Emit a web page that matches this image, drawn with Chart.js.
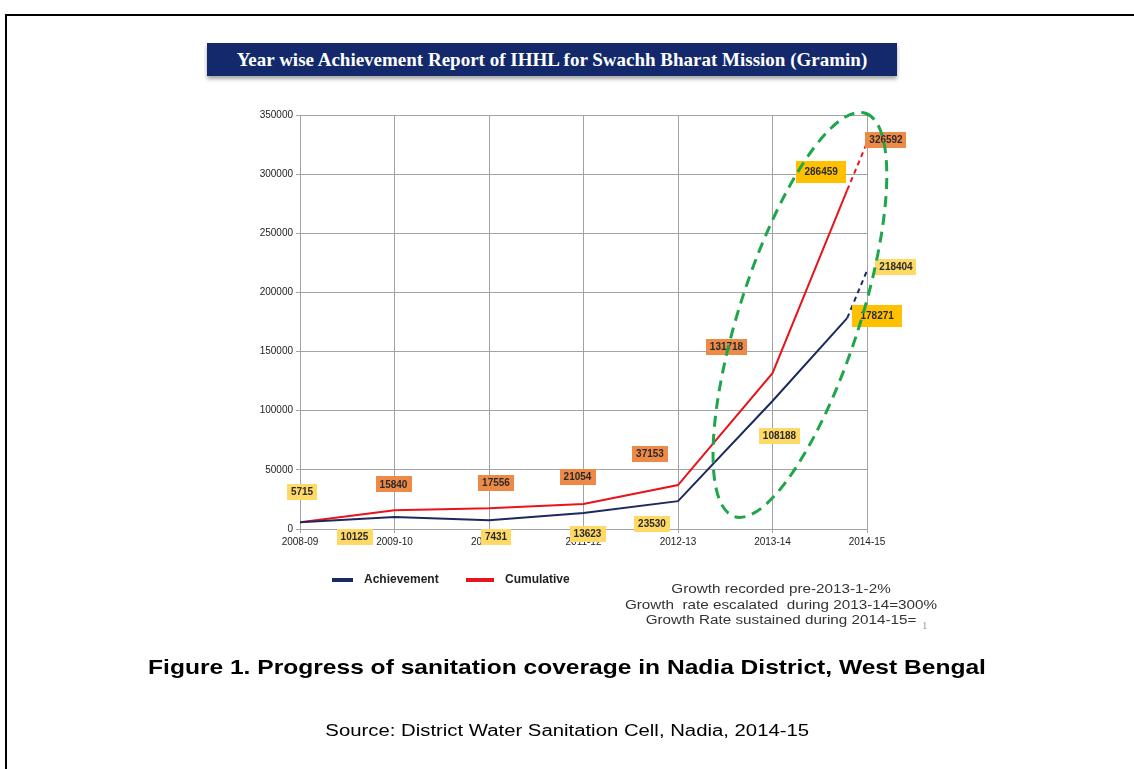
<!DOCTYPE html>
<html>
<head>
<meta charset="utf-8">
<title>IHHL achievement, Nadia</title>
<script src="https://cdn.jsdelivr.net/npm/chart.js@4"></script>
<style>
  html, body { margin: 0; padding: 0; background: #fff; }
  #page { position: relative; width: 1134px; height: 769px; overflow: hidden; font-family: "Liberation Sans", Arial, sans-serif; }
  .frame { position: absolute; background: #000; }
  #banner {
    position: absolute; left: 207px; top: 43px; width: 690px; height: 33px;
    background: #13296b; color: #fff; box-shadow: 0 3px 4px rgba(0,0,0,0.35);
    font: bold 19px "Liberation Serif", "Times New Roman", serif;
    line-height: 33px; text-align: center;
  }
  canvas { position: absolute; left: 0; top: 0; }
  .legend { position: absolute; top: 572px; font: bold 12px "Liberation Sans", Arial, sans-serif; color: #222; }
  .legend i { display: inline-block; height: 4px; vertical-align: middle; margin-right: 11px; }
  #notes {
    position: absolute; left: 581px; top: 582px; width: 400px; text-align: center;
    font: 12px "Liberation Sans", Arial, sans-serif; line-height: 15.5px; color: #333;
    transform: scaleX(1.27); transform-origin: 200px 0;
  }
  #pageno { position: absolute; left: 922px; top: 619px; font: 11px "Liberation Serif", serif; color: #999; }
  #caption { position: absolute; left: 0; width: 1134px; top: 655px; text-align: center; font: bold 21px "Liberation Sans", Arial, sans-serif; color: #000; transform: scaleX(1.17); transform-origin: 567px 0; }
  #source { position: absolute; left: 0; width: 1134px; top: 722px; text-align: center; font: 16px "Liberation Sans", Arial, sans-serif; color: #000; transform: scaleX(1.27); transform-origin: 566px 0; }
</style>
</head>
<body>
<div id="page">
  <div class="frame" style="left:5px;top:14px;width:1129px;height:2px"></div>
  <div class="frame" style="left:5px;top:14px;width:2px;height:755px"></div>
  <div id="banner">Year wise Achievement Report of IHHL for Swachh Bharat Mission (Gramin)</div>
  <canvas id="chart" width="1134" height="769"></canvas>
  <div class="legend" style="left:332px"><i style="background:#1b2a5e;width:21px"></i>Achievement</div>
  <div class="legend" style="left:466px"><i style="background:#e8141b;width:28px"></i>Cumulative</div>
  <div id="notes">Growth recorded pre-2013-1-2%<br>Growth&nbsp; rate escalated&nbsp; during 2013-14=300%<br>Growth Rate sustained during 2014-15=</div>
  <div id="pageno">1</div>
  <div id="caption">Figure 1. Progress of sanitation coverage in Nadia District, West Bengal</div>
  <div id="source">Source: District Water Sanitation Cell, Nadia, 2014-15</div>
</div>
<script>
const years = ["2008-09", "2009-10", "2010-11", "2011-12", "2012-13", "2013-14", "2014-15"];
const achievement = [5715, 10125, 7431, 13623, 23530, 108188, 218404];
const cumulative = [5715, 15840, 17556, 21054, 37153, 131718, 326592];

// 2014-15 reading taken part way through the year (solid line stops there)
const partialYear = 5.79;
const partialAchievement = 178271;
const partialCumulative = 286459;

const NAVY = "#1b2a5e";
const RED = "#e8141b";
const GRID = "#a3a3a3";
const LIGHT = "#ffd966";
const GOLD = "#ffc000";
const ORANGE = "#ee8a47";

function solidPoints(values, partial) {
  const pts = values.slice(0, 6).map((v, i) => ({ x: i, y: v }));
  pts.push({ x: partialYear, y: partial });
  return pts;
}

function dashedPoints(values, partial) {
  return [{ x: partialYear, y: partial }, { x: 6, y: values[6] }];
}

// which point each value box hangs off, and how far it is nudged
const valueBoxes = [
  { ds: 0, i: 0, dx: 2, dy: -30, fill: LIGHT },
  { ds: 0, i: 1, dx: -40, dy: 20, fill: LIGHT },
  { ds: 0, i: 2, dx: 7, dy: 17, fill: LIGHT },
  { ds: 0, i: 3, dx: 4, dy: 21, fill: LIGHT },
  { ds: 0, i: 4, dx: -26, dy: 23, fill: LIGHT },
  { ds: 0, i: 5, dx: 7, dy: 35, fill: LIGHT },
  { ds: 0, i: 6, dx: 30, dy: -2, fill: GOLD, big: true },
  { ds: 1, i: 1, dx: 29, dy: -4, fill: LIGHT },
  { ds: 2, i: 1, dx: -1, dy: -26, fill: ORANGE },
  { ds: 2, i: 2, dx: 7, dy: -25, fill: ORANGE },
  { ds: 2, i: 3, dx: -6, dy: -27, fill: ORANGE },
  { ds: 2, i: 4, dx: -28, dy: -31, fill: ORANGE },
  { ds: 2, i: 5, dx: -46, dy: -26, fill: ORANGE },
  { ds: 2, i: 6, dx: -26, dy: -18, fill: GOLD, big: true },
  { ds: 3, i: 1, dx: 19, dy: -3, fill: ORANGE }
];

const valueBoxPlugin = {
  id: "valueBoxes",
  afterDatasetsDraw(chart) {
    const ctx = chart.ctx;
    ctx.save();
    ctx.font = "bold 10px 'Liberation Sans', Arial, sans-serif";
    ctx.textAlign = "center";
    ctx.textBaseline = "middle";
    valueBoxes.forEach((b) => {
      const el = chart.getDatasetMeta(b.ds).data[b.i];
      const raw = chart.data.datasets[b.ds].data[b.i].y;
      const text = String(raw);
      const cx = el.x + b.dx;
      const cy = el.y + b.dy;
      const w = ctx.measureText(text).width + (b.big ? 17 : 8);
      const h = b.big ? 22 : 16;
      ctx.fillStyle = b.fill;
      ctx.fillRect(Math.round(cx - w / 2), Math.round(cy - h / 2), Math.round(w), h);
      ctx.fillStyle = "#2a2a2a";
      ctx.fillText(text, cx, cy + 0.5);
    });
    ctx.restore();
  },
  afterDraw(chart) {
    // green dashed ring round the 2013-15 surge
    const ctx = chart.ctx;
    const x = chart.scales.x.getPixelForValue(5.29);
    const y = chart.scales.y.getPixelForValue(181000);
    ctx.save();
    ctx.strokeStyle = "#1fa64a";
    ctx.lineWidth = 3;
    ctx.setLineDash([11, 7]);
    ctx.beginPath();
    ctx.ellipse(x, y, 212, 60, -72 * Math.PI / 180, 0, Math.PI * 2);
    ctx.stroke();
    ctx.restore();
  }
};

new Chart(document.getElementById("chart"), {
  type: "line",
  data: {
    datasets: [
      { label: "Achievement", data: solidPoints(achievement, partialAchievement), borderColor: NAVY, borderWidth: 2 },
      { label: "Achievement (rest of year)", data: dashedPoints(achievement, partialAchievement), borderColor: NAVY, borderWidth: 2, borderDash: [5, 4] },
      { label: "Cumulative", data: solidPoints(cumulative, partialCumulative), borderColor: RED, borderWidth: 2 },
      { label: "Cumulative (rest of year)", data: dashedPoints(cumulative, partialCumulative), borderColor: RED, borderWidth: 2, borderDash: [5, 4] }
    ]
  },
  options: {
    responsive: false,
    animation: false,
    events: [],
    elements: { point: { radius: 0 }, line: { tension: 0 } },
    layout: { padding: { left: 250, right: 267, top: 115, bottom: 220 } },
    plugins: { legend: { display: false }, tooltip: { enabled: false } },
    scales: {
      x: {
        type: "linear",
        min: 0,
        max: 6,
        afterFit: (s) => { s.height = 20; },
        grid: { color: GRID, tickLength: 4 },
        border: { color: GRID },
        ticks: {
          stepSize: 1,
          autoSkip: false,
          maxRotation: 0,
          padding: 3,
          color: "#222",
          font: { family: "'Liberation Sans', Arial, sans-serif", size: 10 },
          callback: (v) => years[v]
        }
      },
      y: {
        min: 0,
        max: 350000,
        afterFit: (s) => { s.width = 50; },
        grid: { color: GRID, tickLength: 4 },
        border: { color: GRID },
        ticks: {
          stepSize: 50000,
          padding: 3,
          color: "#222",
          font: { family: "'Liberation Sans', Arial, sans-serif", size: 10 },
          callback: (v) => String(v)
        }
      }
    }
  },
  plugins: [valueBoxPlugin]
});
</script>
</body>
</html>
